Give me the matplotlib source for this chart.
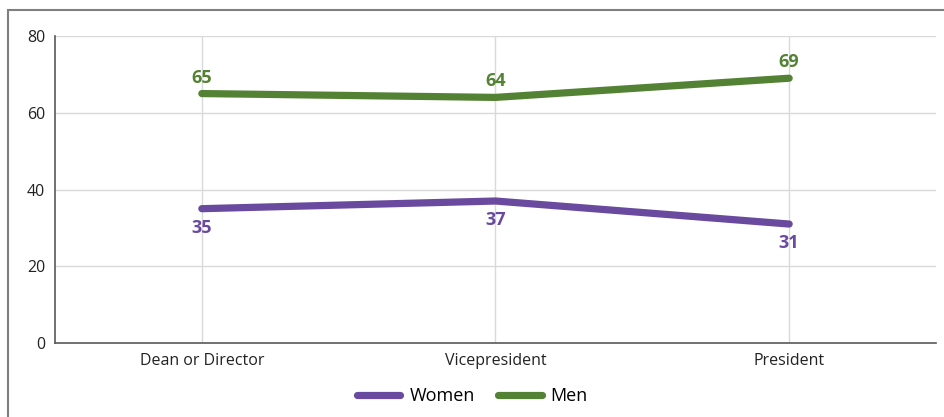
import matplotlib.pyplot as plt
from matplotlib.patches import Rectangle

plt.rcParams['font.family'] = ['Open Sans', 'DejaVu Sans']

categories = ['Dean or Director', 'Vicepresident', 'President']
women = [35, 37, 31]
men = [65, 64, 69]
women_labels = ['35', '37', '31']
men_labels = ['65', '64', '69']

purple = '#6a4a9e'
green = '#548235'

fig = plt.figure(figsize=(9.45, 4.17), dpi=100)
ax = fig.add_axes([55/945, 1-343/417, 881/945, 307/417])

x = range(len(categories))
ax.plot(x, women, color=purple, lw=5.2, solid_capstyle='round', label='Women', zorder=3)
ax.plot(x, men, color=green, lw=5.2, solid_capstyle='round', label='Men', zorder=3)

for i in x:
    ax.annotate(men_labels[i], (i, men[i]), xytext=(0, 5), textcoords='offset points',
                ha='center', va='bottom', color=green, fontsize=13, fontweight='bold')
    ax.annotate(women_labels[i], (i, women[i]), xytext=(0, -7.5), textcoords='offset points',
                ha='center', va='top', color=purple, fontsize=13, fontweight='bold')

ax.set_xlim(-0.5, 2.5)
ax.set_ylim(0, 80)
ax.set_yticks([0, 20, 40, 60, 80])
ax.set_xticks(list(x))
ax.set_xticklabels(categories)
ax.tick_params(length=0, labelsize=11.5, colors='#222222', pad=7)
ax.grid(True, color='#d9d9d9', lw=1)
ax.set_axisbelow(True)
for s in ['top', 'right']:
    ax.spines[s].set_visible(False)
for s in ['left', 'bottom']:
    ax.spines[s].set_color('#595959')
    ax.spines[s].set_linewidth(1.2)

leg = fig.legend(loc='center', bbox_to_anchor=(0.5, 1-396/417), ncol=2, frameon=False,
                 fontsize=13, handlelength=2.4, handletextpad=0.5, columnspacing=1.3)

# outer chart frame (cropped at right and bottom)
fig.patches.append(Rectangle((8/945, -0.1), 1.2, (1-10/417)+0.1, transform=fig.transFigure,
                             fill=False, edgecolor='#7f7f7f', lw=1.5))

fig.savefig('out.png', dpi=100)
